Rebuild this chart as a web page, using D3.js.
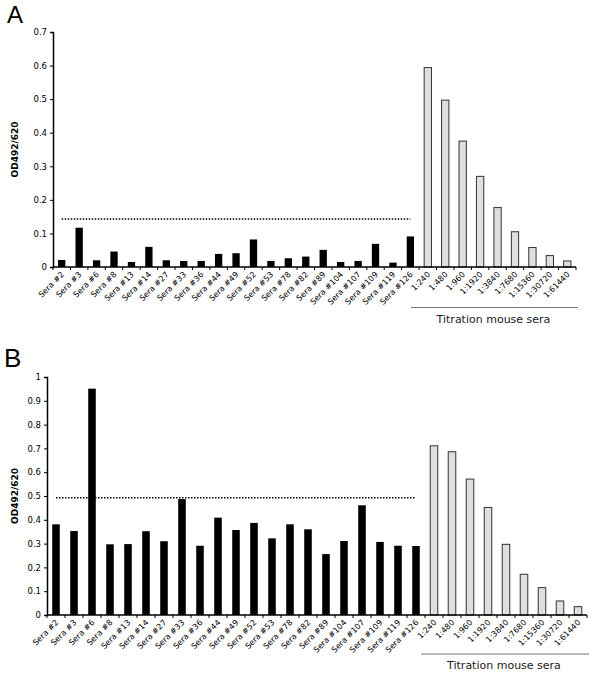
<!DOCTYPE html>
<html>
<head>
<meta charset="utf-8">
<script src="https://cdn.jsdelivr.net/npm/d3@7"></script>
<style>
  body { margin: 0; background: #fff; }
  svg { display: block; }
  text { font-family: "DejaVu Sans", Verdana, sans-serif; }
</style>
</head>
<body>
<svg id="chart" width="600" height="680"></svg>
<script>
// ---- Data ----
const seraLabels = ["Sera #2","Sera #3","Sera #6","Sera #8","Sera #13","Sera #14","Sera #27","Sera #33","Sera #36","Sera #44","Sera #49","Sera #52","Sera #53","Sera #78","Sera #82","Sera #89","Sera #104","Sera #107","Sera #109","Sera #119","Sera #126"];
const titrationLabels = ["1:240","1:480","1:960","1:1920","1:3840","1:7680","1:15360","1:30720","1:61440"];

const seraA = [0.021,0.117,0.020,0.046,0.015,0.060,0.020,0.018,0.018,0.039,0.041,0.082,0.018,0.026,0.031,0.051,0.015,0.018,0.069,0.013,0.091];
const titrationA = [0.594,0.497,0.375,0.270,0.177,0.105,0.058,0.034,0.018];
const cutoffA = 0.143;
const ticksA = [0,0.1,0.2,0.3,0.4,0.5,0.6,0.7];

const seraB = [0.381,0.353,0.951,0.297,0.298,0.352,0.310,0.487,0.291,0.409,0.357,0.387,0.322,0.381,0.360,0.256,0.311,0.461,0.307,0.291,0.290];
const titrationB = [0.711,0.686,0.571,0.452,0.297,0.171,0.115,0.059,0.035];
const cutoffB = 0.493;
const ticksB = [0,0.1,0.2,0.3,0.4,0.5,0.6,0.7,0.8,0.9,1];

const groupLabel = "Titration mouse sera";
const yTitle = "OD492/620";

// ---- Drawing ----
const svg = d3.select("#chart");

function panel(cfg) {
  const g = svg.append("g");
  const cats = seraLabels.concat(titrationLabels);
  const rows = seraLabels.map((c, i) => ({c, v: cfg.sera[i], kind: "s"}))
    .concat(titrationLabels.map((c, i) => ({c, v: cfg.titration[i], kind: "t"})));

  const x = d3.scaleBand().domain(cats).range([cfg.x0, cfg.x1]).paddingInner(0.58).paddingOuter(0.29);
  const y = d3.scaleLinear().domain([0, cfg.ymax]).range([cfg.y0, cfg.y1]);

  // panel letter
  g.append("text").attr("x", cfg.letterX).attr("y", cfg.letterY)
    .style("font-family", "'Liberation Sans', Arial, sans-serif")
    .attr("font-size", cfg.letterSize).text(cfg.letter);

  // bars
  g.selectAll("rect.bar").data(rows).join("rect")
    .attr("class", "bar")
    .attr("x", d => x(d.c))
    .attr("width", x.bandwidth())
    .attr("y", d => y(d.v))
    .attr("height", d => y(0) - y(d.v))
    .attr("fill", d => d.kind === "s" ? "#000" : "#e2dedf")
    .attr("stroke", d => d.kind === "s" ? "none" : "#333")
    .attr("stroke-width", 1);

  // cutoff line
  g.append("line")
    .attr("x1", x(seraLabels[0]) + x.bandwidth() / 2)
    .attr("x2", x(seraLabels[seraLabels.length - 1]) + x.bandwidth() / 2)
    .attr("y1", y(cfg.cutoff)).attr("y2", y(cfg.cutoff))
    .attr("stroke", "#000").attr("stroke-width", 1.5)
    .attr("stroke-dasharray", "1.5,1.5");

  // y axis
  const yAxis = d3.axisLeft(y).tickValues(cfg.ticks).tickSize(3).tickPadding(3)
    .tickFormat(d => d === 0 ? "0" : (d === 1 ? "1" : d3.format(".1f")(d)));
  const ya = g.append("g").attr("transform", `translate(${cfg.x0},0)`).call(yAxis);
  ya.select(".domain").attr("stroke", "#000").attr("stroke-width", 1.5);
  ya.selectAll(".tick line").attr("stroke", "#000");
  ya.selectAll(".tick text").attr("font-size", 8.5).attr("fill", "#000")
    .style("font-family", "'DejaVu Sans', Verdana, sans-serif");

  // x axis line + boundary ticks
  g.append("line").attr("x1", cfg.x0).attr("x2", cfg.x1)
    .attr("y1", y(0)).attr("y2", y(0)).attr("stroke", "#000").attr("stroke-width", 1.5);
  const step = x.step();
  const bounds = d3.range(cats.length + 1).map(i => cfg.x0 + i * step);
  g.selectAll("line.bt").data(bounds).join("line").attr("class", "bt")
    .attr("x1", d => d).attr("x2", d => d)
    .attr("y1", y(0)).attr("y2", y(0) + 3)
    .attr("stroke", "#000").attr("stroke-width", 1);

  // x labels rotated
  g.selectAll("text.xl").data(cats).join("text").attr("class", "xl")
    .attr("transform", d => `translate(${x(d) + x.bandwidth() / 2 + 3},${y(0) + 8}) rotate(-45)`)
    .attr("text-anchor", "end")
    .attr("font-size", 8)
    .attr("fill", "#000")
    .text(d => d);

  // y title
  g.append("text")
    .attr("transform", `translate(${cfg.titleX},${(cfg.y0 + cfg.y1) / 2}) rotate(-90)`)
    .attr("text-anchor", "middle")
    .attr("font-size", 9).attr("font-weight", "bold")
    .text(yTitle);

  // group bracket
  g.append("line").attr("x1", cfg.grpX0).attr("x2", cfg.x1 + 2)
    .attr("y1", cfg.grpY).attr("y2", cfg.grpY)
    .attr("stroke", "#777").attr("stroke-width", 1.2);
  g.append("text").attr("x", (cfg.grpX0 + cfg.x1) / 2).attr("y", cfg.grpY + 15)
    .attr("text-anchor", "middle").attr("font-size", 11).attr("fill", "#222")
    .text(groupLabel);
}

panel({
  letter: "A", letterX: 7, letterY: 23, letterSize: 24,
  sera: seraA, titration: titrationA, cutoff: cutoffA, ticks: ticksA, ymax: 0.7,
  x0: 53, x1: 576, y0: 267, y1: 32, titleX: 18,
  grpX0: 411, grpY: 307.5
});

panel({
  letter: "B", letterX: 4, letterY: 367, letterSize: 26,
  sera: seraB, titration: titrationB, cutoff: cutoffB, ticks: ticksB, ymax: 1,
  x0: 47, x1: 587, y0: 615, y1: 377, titleX: 18,
  grpX0: 421, grpY: 654
});
</script>
</body>
</html>
